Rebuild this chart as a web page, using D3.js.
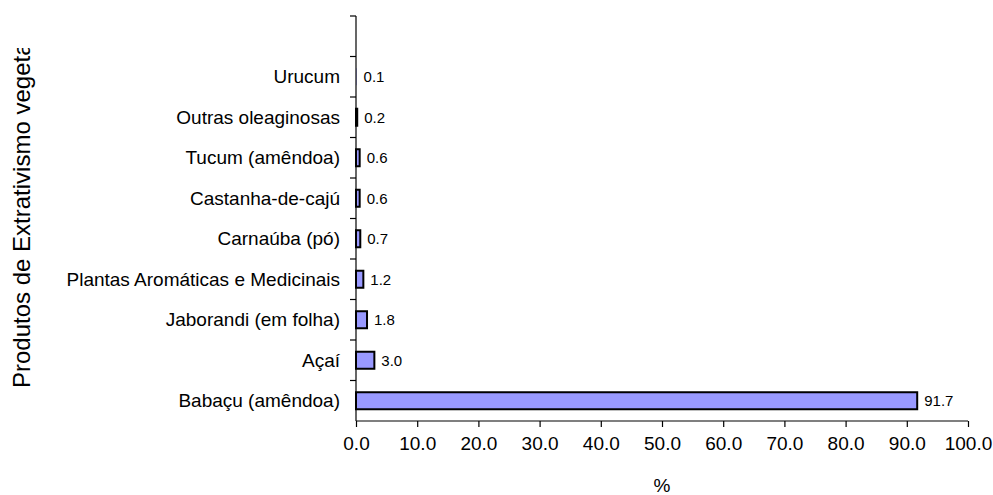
<!DOCTYPE html>
<html>
<head>
<meta charset="utf-8">
<script src="https://cdn.jsdelivr.net/npm/d3@7"></script>
<style>
  html, body { margin: 0; padding: 0; background: #fff; }
  svg { display: block; font-family: Arial, "Liberation Sans", sans-serif; }
</style>
</head>
<body>
<svg id="chart" width="993" height="495"></svg>
<script>
// Participação (%) dos produtos do extrativismo vegetal, de baixo para cima
const categories = [
  "Babaçu (amêndoa)",
  "Açaí",
  "Jaborandi (em folha)",
  "Plantas Aromáticas e Medicinais",
  "Carnaúba (pó)",
  "Castanha-de-cajú",
  "Tucum (amêndoa)",
  "Outras oleaginosas",
  "Urucum"
];
const values = [91.7, 3.0, 1.8, 1.2, 0.7, 0.6, 0.6, 0.2, 0.1];
const xTicks = [0, 10, 20, 30, 40, 50, 60, 70, 80, 90, 100];
const yTitle = "Produtos de Extrativismo vegetal";
const xTitle = "%";

const svg = d3.select("#chart");
const plot = { left: 356, right: 968, top: 16, bottom: 421 };

const x = d3.scaleLinear().domain([0, 100]).range([plot.left, plot.right]);

// One spare slot above the last category keeps the axis taller than the data
const slots = categories.concat([""]);
const y = d3.scaleBand()
  .domain(d3.range(slots.length))
  .range([plot.bottom, plot.top])
  .paddingInner(0)
  .paddingOuter(0);
const barH = y.bandwidth() * 0.42;

// Bars (sub-pixel bars get no outline)
svg.append("g")
  .selectAll("rect")
  .data(values)
  .join("rect")
  .attr("x", x(0))
  .attr("y", (d, i) => y(i) + (y.bandwidth() - barH) / 2)
  .attr("width", d => x(d) - x(0))
  .attr("height", barH)
  .attr("fill", "#9999FF")
  .attr("stroke", d => (x(d) - x(0)) < 1 ? "none" : "#000")
  .attr("stroke-width", 2);

// Value labels
svg.append("g")
  .selectAll("text")
  .data(values)
  .join("text")
  .attr("x", d => x(d) + 7)
  .attr("y", (d, i) => y(i) + y.bandwidth() / 2)
  .attr("dy", "0.35em")
  .attr("font-size", 15)
  .attr("fill", "#000")
  .text(d => d.toFixed(1));

// X axis
const xAxis = d3.axisBottom(x)
  .tickValues(xTicks)
  .tickFormat(d3.format(".1f"))
  .tickSize(6)
  .tickPadding(10);
const gx = svg.append("g")
  .attr("transform", `translate(0,${plot.bottom})`)
  .call(xAxis);
gx.select(".domain").attr("stroke", "#000").attr("stroke-width", 1.2)
  .attr("d", `M${plot.left},0H${plot.right}`);
gx.selectAll(".tick line").attr("stroke", "#000").attr("stroke-width", 1.2);
gx.selectAll(".tick text").attr("font-size", 19).attr("font-family", "Arial, 'Liberation Sans', sans-serif").attr("fill", "#000");

// Y axis: category labels centered in their slots, ticks on slot boundaries
const gy = svg.append("g");
gy.append("line")
  .attr("x1", plot.left).attr("x2", plot.left)
  .attr("y1", plot.top).attr("y2", plot.bottom)
  .attr("stroke", "#000").attr("stroke-width", 1.2);
gy.selectAll("line.tick")
  .data(d3.range(slots.length))
  .join("line")
  .attr("class", "tick")
  .attr("x1", plot.left - 6).attr("x2", plot.left)
  .attr("y1", i => y(i)).attr("y2", i => y(i))
  .attr("stroke", "#000").attr("stroke-width", 1.2);
gy.selectAll("text")
  .data(categories)
  .join("text")
  .attr("x", plot.left - 16)
  .attr("y", (d, i) => y(i) + y.bandwidth() / 2)
  .attr("dy", "0.35em")
  .attr("text-anchor", "end")
  .attr("font-size", 19)
  .attr("fill", "#000")
  .text(d => d);

// Axis titles (the vertical one is cut off at the top of the chart area)
svg.append("defs").append("clipPath").attr("id", "titleClip")
  .append("rect").attr("x", 0).attr("y", 48).attr("width", 60).attr("height", 447);
svg.append("g")
  .attr("clip-path", "url(#titleClip)")
  .append("text")
  .attr("transform", "translate(30,388) rotate(-90)")
  .attr("text-anchor", "start")
  .attr("font-size", 24)
  .attr("fill", "#000")
  .text(yTitle);

svg.append("text")
  .attr("x", (plot.left + plot.right) / 2)
  .attr("y", 485)
  .attr("dy", "0.35em")
  .attr("text-anchor", "middle")
  .attr("font-size", 19)
  .attr("fill", "#000")
  .text(xTitle);
</script>
</body>
</html>
